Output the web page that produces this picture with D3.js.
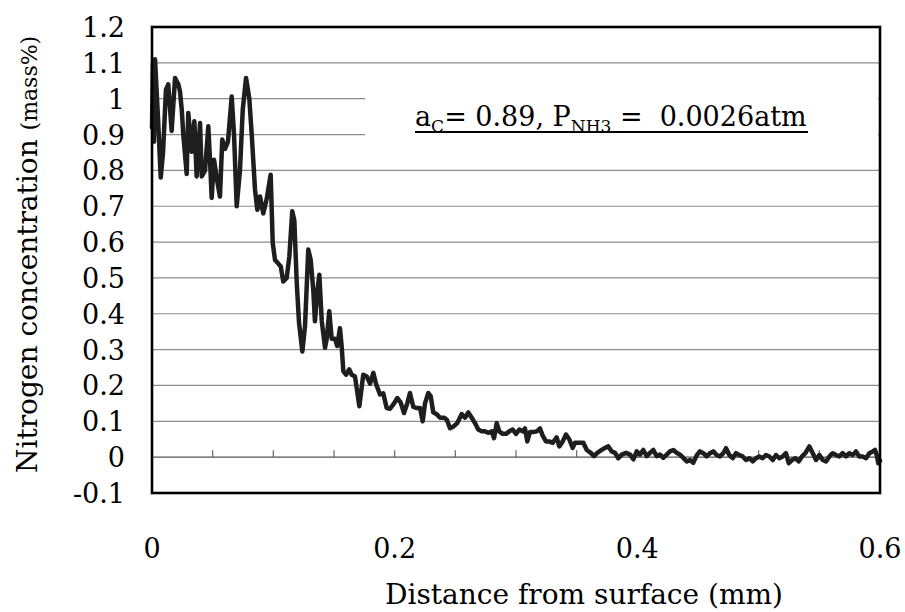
<!DOCTYPE html>
<html>
<head>
<meta charset="utf-8">
<script src="https://cdn.jsdelivr.net/npm/d3@7"></script>
<style>
  body { margin: 0; background: #fff; }
  svg { display: block; font-family: "DejaVu Serif", serif; }
</style>
</head>
<body>
<div id="chart"></div>
<script>
// distance from surface (mm)
const distance = [
  0, 0.0008, 0.0016, 0.0025, 0.0049, 0.0072, 0.0091, 0.0115, 0.0134, 0.0162,
  0.019, 0.0217, 0.0231, 0.0245, 0.0258, 0.0286, 0.0299, 0.0313, 0.0327, 0.0349,
  0.0368, 0.0396, 0.041, 0.0437, 0.0464, 0.0478, 0.0492, 0.0511, 0.0533, 0.056,
  0.0579, 0.0602, 0.0626, 0.0657, 0.0676, 0.0698, 0.0725, 0.0748, 0.0775, 0.0802,
  0.0822, 0.0849, 0.0868, 0.089, 0.0917, 0.0945, 0.0978, 0.0995, 0.1014, 0.1041,
  0.1061, 0.1082, 0.111, 0.1132, 0.1156, 0.1173, 0.1193, 0.1212, 0.1239, 0.1261,
  0.1288, 0.1308, 0.1329, 0.1343, 0.1362, 0.1379, 0.1399, 0.1426, 0.144, 0.1461,
  0.1481, 0.1508, 0.1527, 0.1549, 0.1563, 0.1577, 0.1599, 0.1626, 0.1646, 0.1673,
  0.1709, 0.1741, 0.177, 0.1797, 0.1824, 0.1846, 0.1879, 0.1906, 0.1934, 0.1962,
  0.1995, 0.2022, 0.205, 0.2077, 0.2104, 0.2126, 0.2154, 0.2182, 0.2209, 0.2231,
  0.225, 0.2277, 0.2297, 0.2318, 0.2346, 0.2374, 0.2407, 0.2429, 0.2456, 0.2483,
  0.2516, 0.2552, 0.258, 0.2607, 0.2635, 0.2662, 0.2689, 0.2717, 0.2744, 0.2772,
  0.28, 0.2819, 0.2841, 0.2862, 0.289, 0.2918, 0.2945, 0.2973, 0.3, 0.3027,
  0.3055, 0.3074, 0.3093, 0.3115, 0.3143, 0.3171, 0.3198, 0.322, 0.3247, 0.3274,
  0.3302, 0.3335, 0.3357, 0.3385, 0.3412, 0.3439, 0.3467, 0.3486, 0.3522, 0.3555,
  0.3583, 0.3616, 0.3643, 0.367, 0.3706, 0.3734, 0.3761, 0.3789, 0.3816, 0.3843,
  0.3871, 0.3907, 0.394, 0.3967, 0.3995, 0.4022, 0.4049, 0.4077, 0.4104, 0.4132,
  0.416, 0.4187, 0.4214, 0.4242, 0.4269, 0.4297, 0.4324, 0.4352, 0.4379, 0.4407,
  0.4434, 0.4461, 0.4489, 0.4516, 0.4544, 0.4571, 0.4599, 0.4626, 0.4654, 0.4681,
  0.4709, 0.4731, 0.4758, 0.4786, 0.4813, 0.484, 0.4868, 0.4896, 0.4923, 0.4951,
  0.4978, 0.5005, 0.5033, 0.5061, 0.5088, 0.5116, 0.5143, 0.517, 0.5198, 0.5225,
  0.5248, 0.5275, 0.5302, 0.533, 0.5357, 0.5385, 0.5418, 0.5446, 0.5473, 0.55,
  0.5528, 0.5555, 0.5583, 0.561, 0.5637, 0.5665, 0.5692, 0.572, 0.5747, 0.5775,
  0.5802, 0.5829, 0.5857, 0.5885, 0.5912, 0.594, 0.5959, 0.5973, 0.5986, 0.6
]

// nitrogen concentration (mass%)
const nitrogen = [
  0.92, 1.10, 0.88, 1.11, 0.95, 0.78, 0.85, 1.025, 1.04, 0.91,
  1.058, 1.04, 1.02, 0.97, 0.90, 0.79, 0.96, 0.907, 0.852, 0.937,
  0.783, 0.932, 0.783, 0.80, 0.923, 0.83, 0.723, 0.83, 0.78, 0.727,
  0.886, 0.86, 0.88, 1.006, 0.90, 0.70, 0.80, 0.97, 1.058, 1.0,
  0.90, 0.746, 0.69, 0.727, 0.68, 0.72, 0.788, 0.597, 0.55, 0.54,
  0.532, 0.49, 0.50, 0.56, 0.686, 0.66, 0.486, 0.374, 0.295, 0.365,
  0.579, 0.55, 0.467, 0.379, 0.46, 0.509, 0.38, 0.305, 0.33, 0.407,
  0.33, 0.33, 0.31, 0.36, 0.31, 0.24, 0.23, 0.245, 0.23, 0.225,
  0.142, 0.23, 0.225, 0.205, 0.235, 0.205, 0.175, 0.178, 0.137, 0.135,
  0.15, 0.165, 0.152, 0.123, 0.15, 0.179, 0.14, 0.137, 0.137, 0.10,
  0.15, 0.179, 0.17, 0.125, 0.12, 0.11, 0.11, 0.105, 0.081, 0.085,
  0.095, 0.12, 0.11, 0.125, 0.11, 0.095, 0.077, 0.072, 0.072, 0.068,
  0.072, 0.053, 0.095, 0.072, 0.065, 0.065, 0.072, 0.077, 0.065, 0.077,
  0.072, 0.08, 0.044, 0.07, 0.07, 0.072, 0.08, 0.06, 0.044, 0.044,
  0.04, 0.055, 0.03, 0.044, 0.063, 0.05, 0.026, 0.04, 0.04, 0.04,
  0.02, 0.012, 0.003, 0.012, 0.02, 0.026, 0.03, 0.016, 0.012, -0.003,
  0.007, 0.012, 0.007, -0.006, 0.016, 0.007, 0.02, 0.003, 0.012, 0.02,
  0.003, 0.007, -0.002, 0.007, 0.016, 0.02, 0.012, 0.007, -0.002, -0.012,
  -0.008, -0.016, 0.005, 0.016, 0.011, 0.002, 0.011, 0.016, 0.006, 0.002,
  0.011, 0.025, 0.006, -0.003, 0.011, 0.006, 0.002, -0.008, -0.003, -0.012,
  -0.003, 0.002, -0.003, 0.006, 0.002, -0.008, 0.006, -0.003, 0.002, 0.011,
  -0.017, -0.008, -0.003, -0.012, 0.002, 0.011, 0.03, 0.011, -0.008, 0.006,
  -0.008, -0.012, 0.002, 0.011, 0.006, 0.002, 0.011, 0.002, 0.011, 0.006,
  0.016, 0.002, 0.002, -0.003, 0.011, 0.016, 0.02, 0.006, -0.017, -0.01
]

const yTicks = [-0.1, 0, 0.1, 0.2, 0.3, 0.4, 0.5, 0.6, 0.7, 0.8, 0.9, 1, 1.1, 1.2]
const xTicks = [0, 0.2, 0.4, 0.6]
const xMinorTicks = [0.05, 0.1, 0.15, 0.2, 0.25, 0.3, 0.35, 0.4, 0.45, 0.5, 0.55]

const width = 905
const height = 612
const margin = { top: 27, right: 25, bottom: 119, left: 152 }

const svg = d3.select("#chart")
  .append("svg")
  .attr("width", width)
  .attr("height", height)

const x = d3.scaleLinear()
  .domain([0, 0.6])
  .range([margin.left, width - margin.right])

const y = d3.scaleLinear()
  .domain([-0.1, 1.2])
  .range([height - margin.bottom, margin.top])

const data = distance.map((d, i) => ({ x: d, y: nitrogen[i] }))

// gridlines
svg.append("g")
  .selectAll("line")
  .data(yTicks.filter(d => d > -0.1 && d < 1.2 && d !== 0))
  .enter()
  .append("line")
  .attr("x1", x(0))
  .attr("x2", x(0.6))
  .attr("y1", d => y(d))
  .attr("y2", d => y(d))
  .attr("stroke", "#8c8c8c")
  .attr("stroke-width", 1.2)

// white panel behind the annotation (hides part of the 0.9 / 1.0 gridlines)
svg.append("rect")
  .attr("x", 365)
  .attr("y", 76)
  .attr("width", x(0.6) - 367)
  .attr("height", 80)
  .attr("fill", "#fff")

// zero axis with small tick marks
svg.append("line")
  .attr("x1", x(0))
  .attr("x2", x(0.6))
  .attr("y1", y(0))
  .attr("y2", y(0))
  .attr("stroke", "#555")
  .attr("stroke-width", 1.3)

svg.append("g")
  .selectAll("line")
  .data(xMinorTicks)
  .enter()
  .append("line")
  .attr("x1", d => x(d))
  .attr("x2", d => x(d))
  .attr("y1", y(0))
  .attr("y2", y(0) - 7)
  .attr("stroke", "#666")
  .attr("stroke-width", 1.2)

// the trace
const line = d3.line()
  .x(d => x(d.x))
  .y(d => y(d.y))

svg.append("path")
  .datum(data)
  .attr("d", line)
  .attr("fill", "none")
  .attr("stroke", "#1e1e1e")
  .attr("stroke-width", 4.5)
  .attr("stroke-linejoin", "round")
  .attr("stroke-linecap", "round")

// plot frame
svg.append("rect")
  .attr("x", x(0))
  .attr("y", y(1.2))
  .attr("width", x(0.6) - x(0))
  .attr("height", y(-0.1) - y(1.2))
  .attr("fill", "none")
  .attr("stroke", "#000")
  .attr("stroke-width", 2.6)

// y tick labels (plain hyphen for the negative value, as in the original)
svg.append("g")
  .selectAll("text")
  .data(yTicks)
  .enter()
  .append("text")
  .attr("x", 125)
  .attr("y", d => y(d) + 10)
  .attr("text-anchor", "end")
  .style("font-size", "27px")
  .attr("fill", "#000")
  .text(d => String(d))

// x tick labels
svg.append("g")
  .selectAll("text")
  .data(xTicks)
  .enter()
  .append("text")
  .attr("x", d => x(d))
  .attr("y", 558)
  .attr("text-anchor", "middle")
  .style("font-size", "27px")
  .attr("fill", "#000")
  .text(d => String(d))

// x axis title
svg.append("text")
  .attr("x", 584)
  .attr("y", 604)
  .attr("text-anchor", "middle")
  .style("font-size", "28px")
  .attr("fill", "#000")
  .text("Distance from surface (mm)")

// y axis title
const yTitle = svg.append("text")
  .attr("transform", "translate(37,473) rotate(-90)")
  .attr("text-anchor", "start")
  .style("font-size", "28px")
  .style("white-space", "pre")
  .attr("fill", "#000")

yTitle.append("tspan").text("Nitrogen concentration ")
yTitle.append("tspan").style("font-size", "22px").text("(mass%)")

// annotation
const note = svg.append("text")
  .attr("x", 415)
  .attr("y", 126)
  .style("font-size", "27px")
  .style("white-space", "pre")
  .attr("fill", "#000")

note.append("tspan").text("a")
note.append("tspan").attr("dy", 6).style("font-size", "17px").text("C")
note.append("tspan").attr("dy", -6).text("= 0.89, P")
note.append("tspan").attr("dy", 6).style("font-size", "17px").text("NH3")
note.append("tspan").attr("dy", -6).text(" =  0.0026atm")

svg.append("line")
  .attr("x1", 415)
  .attr("x2", 808)
  .attr("y1", 132)
  .attr("y2", 132)
  .attr("stroke", "#000")
  .attr("stroke-width", 2)
</script>
</body>
</html>
